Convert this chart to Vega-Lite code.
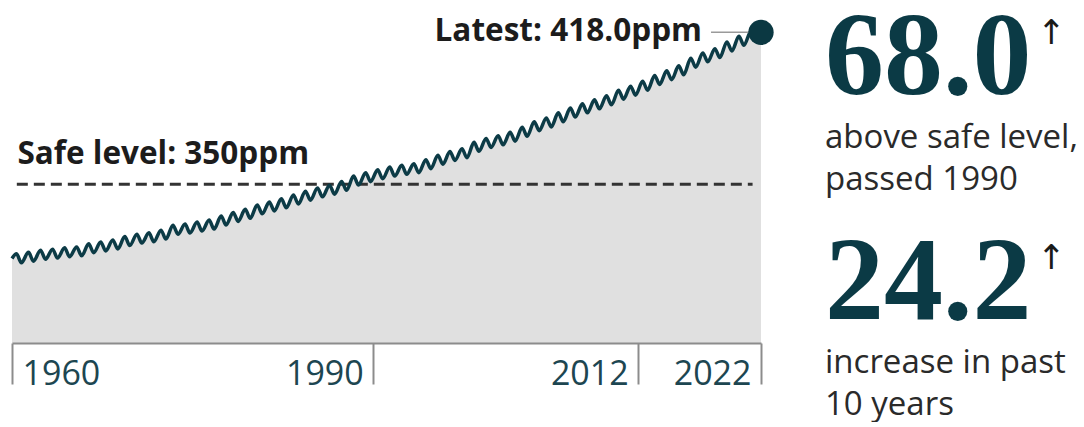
{
  "$schema": "https://vega.github.io/schema/vega-lite/v6.json",
  "autosize": {"type": "pad"},
  "padding": {"left": 5, "top": 0, "right": 0, "bottom": 0},
  "background": "#ffffff",
  "bounds": "flush",
  "spacing": 64,
  "config": {"view": {"stroke": null}},
  "datasets": {
    "co2": [
      {"t": 1960.0, "ppm": 316.8},
      {"t": 1960.37, "ppm": 318.9}, {"t": 1960.78, "ppm": 314.9},
      {"t": 1961.37, "ppm": 319.6}, {"t": 1961.78, "ppm": 315.6},
      {"t": 1962.37, "ppm": 320.5}, {"t": 1962.78, "ppm": 316.5},
      {"t": 1963.37, "ppm": 321.0}, {"t": 1963.78, "ppm": 317.0},
      {"t": 1964.37, "ppm": 321.6}, {"t": 1964.78, "ppm": 317.6},
      {"t": 1965.37, "ppm": 322.0}, {"t": 1965.78, "ppm": 318.0},
      {"t": 1966.37, "ppm": 323.4}, {"t": 1966.78, "ppm": 319.4},
      {"t": 1967.37, "ppm": 324.2}, {"t": 1967.78, "ppm": 320.2},
      {"t": 1968.37, "ppm": 325.1}, {"t": 1968.78, "ppm": 321.1},
      {"t": 1969.37, "ppm": 326.6}, {"t": 1969.78, "ppm": 322.6},
      {"t": 1970.37, "ppm": 327.7}, {"t": 1970.78, "ppm": 323.7},
      {"t": 1971.37, "ppm": 328.3}, {"t": 1971.78, "ppm": 324.3},
      {"t": 1972.37, "ppm": 329.5}, {"t": 1972.78, "ppm": 325.5},
      {"t": 1973.37, "ppm": 331.7}, {"t": 1973.78, "ppm": 327.7},
      {"t": 1974.37, "ppm": 332.2}, {"t": 1974.78, "ppm": 328.2},
      {"t": 1975.37, "ppm": 333.1}, {"t": 1975.78, "ppm": 329.1},
      {"t": 1976.37, "ppm": 334.0}, {"t": 1976.78, "ppm": 330.0},
      {"t": 1977.37, "ppm": 335.8}, {"t": 1977.78, "ppm": 331.8},
      {"t": 1978.37, "ppm": 337.4}, {"t": 1978.78, "ppm": 333.4},
      {"t": 1979.37, "ppm": 338.8}, {"t": 1979.78, "ppm": 334.8},
      {"t": 1980.37, "ppm": 340.8}, {"t": 1980.78, "ppm": 336.8},
      {"t": 1981.37, "ppm": 342.1}, {"t": 1981.78, "ppm": 338.1},
      {"t": 1982.37, "ppm": 343.5}, {"t": 1982.78, "ppm": 339.5},
      {"t": 1983.37, "ppm": 345.2}, {"t": 1983.78, "ppm": 341.2},
      {"t": 1984.37, "ppm": 346.9}, {"t": 1984.78, "ppm": 342.9},
      {"t": 1985.37, "ppm": 348.4}, {"t": 1985.78, "ppm": 344.4},
      {"t": 1986.37, "ppm": 349.6}, {"t": 1986.78, "ppm": 345.6},
      {"t": 1987.37, "ppm": 351.3}, {"t": 1987.78, "ppm": 347.3},
      {"t": 1988.37, "ppm": 353.7}, {"t": 1988.78, "ppm": 349.7},
      {"t": 1989.37, "ppm": 355.2}, {"t": 1989.78, "ppm": 351.2},
      {"t": 1990.37, "ppm": 356.5}, {"t": 1990.78, "ppm": 352.5},
      {"t": 1991.37, "ppm": 357.7}, {"t": 1991.78, "ppm": 353.7},
      {"t": 1992.37, "ppm": 358.5}, {"t": 1992.78, "ppm": 354.5},
      {"t": 1993.37, "ppm": 359.2}, {"t": 1993.78, "ppm": 355.2},
      {"t": 1994.37, "ppm": 361.0}, {"t": 1994.78, "ppm": 357.0},
      {"t": 1995.37, "ppm": 363.0}, {"t": 1995.78, "ppm": 359.0},
      {"t": 1996.37, "ppm": 364.7}, {"t": 1996.78, "ppm": 360.7},
      {"t": 1997.37, "ppm": 365.9}, {"t": 1997.78, "ppm": 361.9},
      {"t": 1998.37, "ppm": 368.8}, {"t": 1998.78, "ppm": 364.8},
      {"t": 1999.37, "ppm": 370.5}, {"t": 1999.78, "ppm": 366.5},
      {"t": 2000.37, "ppm": 371.7}, {"t": 2000.78, "ppm": 367.7},
      {"t": 2001.37, "ppm": 373.3}, {"t": 2001.78, "ppm": 369.3},
      {"t": 2002.37, "ppm": 375.5}, {"t": 2002.78, "ppm": 371.5},
      {"t": 2003.37, "ppm": 378.0}, {"t": 2003.78, "ppm": 374.0},
      {"t": 2004.37, "ppm": 379.7}, {"t": 2004.78, "ppm": 375.7},
      {"t": 2005.37, "ppm": 382.0}, {"t": 2005.78, "ppm": 378.0},
      {"t": 2006.37, "ppm": 384.1}, {"t": 2006.78, "ppm": 380.1},
      {"t": 2007.37, "ppm": 386.0}, {"t": 2007.78, "ppm": 382.0},
      {"t": 2008.37, "ppm": 387.8}, {"t": 2008.78, "ppm": 383.8},
      {"t": 2009.37, "ppm": 389.6}, {"t": 2009.78, "ppm": 385.6},
      {"t": 2010.37, "ppm": 392.1}, {"t": 2010.78, "ppm": 388.1},
      {"t": 2011.37, "ppm": 393.9}, {"t": 2011.78, "ppm": 389.9},
      {"t": 2012.37, "ppm": 396.1}, {"t": 2012.78, "ppm": 392.1},
      {"t": 2013.37, "ppm": 398.7}, {"t": 2013.78, "ppm": 394.7},
      {"t": 2014.37, "ppm": 400.8}, {"t": 2014.78, "ppm": 396.8},
      {"t": 2015.37, "ppm": 403.0}, {"t": 2015.78, "ppm": 399.0},
      {"t": 2016.37, "ppm": 406.4}, {"t": 2016.78, "ppm": 402.4},
      {"t": 2017.37, "ppm": 408.8}, {"t": 2017.78, "ppm": 404.8},
      {"t": 2018.37, "ppm": 410.7}, {"t": 2018.78, "ppm": 406.7},
      {"t": 2019.37, "ppm": 413.7}, {"t": 2019.78, "ppm": 409.7},
      {"t": 2020.37, "ppm": 416.2}, {"t": 2020.78, "ppm": 412.2},
      {"t": 2021.37, "ppm": 418.5}, {"t": 2021.78, "ppm": 414.5},
      {"t": 2022.2, "ppm": 418.0}
    ],
    "safe": [{"level": 350, "label": "Safe level: 350ppm"}],
    "latest": [{"t": 2022.2, "ppm": 418.0, "label": "Latest: 418.0ppm"}],
    "stats": [
      {"stat": "68.0", "desc": ["above safe level,", "passed 1990"]},
      {"stat": "24.2", "desc": ["increase in past", "10 years"]}
    ]
  },
  "hconcat": [
    {
      "width": 749,
      "height": 333,
      "layer": [
        {
          "data": {"name": "co2"},
          "mark": {"type": "area", "color": "#e0e0e0", "interpolate": "monotone"},
          "encoding": {
            "x": {
              "field": "t", "type": "quantitative",
              "scale": {"domain": [1960, 2022.2], "nice": false, "zero": false},
              "axis": {
                "values": [1960, 1990, 2012, 2022.2],
                "format": "d",
                "title": null,
                "grid": false,
                "zindex": 1,
                "domainColor": "#8c8c8c",
                "domainWidth": 2,
                "tickColor": "#8c8c8c",
                "tickWidth": 2,
                "tickSize": 41,
                "labelFont": "Open Sans",
                "labelFontSize": 34,
                "labelColor": "#1d4651",
                "labelBaseline": "alphabetic",
                "labelPadding": 0,
                "labelOverlap": false,
                "labelFlush": false,
                "labelAlign": {"condition": {"test": "datum.value < 1970", "value": "left"}, "value": "right"},
                "labelOffset": {"condition": {"test": "datum.value < 1970", "value": 10}, "value": -10}
              }
            },
            "y": {
              "field": "ppm", "type": "quantitative",
              "scale": {"domain": [279, 428], "nice": false, "zero": false},
              "axis": null
            },
            "y2": {"datum": 279}
          }
        },
        {
          "data": {"name": "safe"},
          "mark": {"type": "rule", "color": "#333333", "strokeWidth": 3, "strokeDash": [11, 6]},
          "encoding": {
            "x": {"datum": 1960.4, "type": "quantitative"},
            "x2": {"datum": 2021.5},
            "y": {"field": "level", "type": "quantitative"}
          }
        },
        {
          "data": {"name": "safe"},
          "mark": {"type": "text", "align": "left", "baseline": "alphabetic", "dy": -20, "font": "Open Sans", "fontWeight": "bold", "fontSize": 31.5, "color": "#1c1c1c"},
          "encoding": {
            "x": {"datum": 1960.45, "type": "quantitative"},
            "y": {"field": "level", "type": "quantitative"},
            "text": {"field": "label"}
          }
        },
        {
          "data": {"name": "co2"},
          "mark": {"type": "line", "color": "#0c3b46", "strokeWidth": 3.5, "interpolate": "monotone"},
          "encoding": {
            "x": {"field": "t", "type": "quantitative"},
            "y": {"field": "ppm", "type": "quantitative"}
          }
        },
        {
          "data": {"name": "latest"},
          "mark": {"type": "rule", "color": "#9a9a9a", "strokeWidth": 1.5},
          "encoding": {
            "x": {"field": "t", "type": "quantitative"},
            "x2": {"datum": 2018.05},
            "y": {"field": "ppm", "type": "quantitative"}
          }
        },
        {
          "data": {"name": "latest"},
          "mark": {"type": "point", "filled": true, "size": 640, "color": "#0b3842", "opacity": 1},
          "encoding": {
            "x": {"field": "t", "type": "quantitative"},
            "y": {"field": "ppm", "type": "quantitative"}
          }
        },
        {
          "data": {"name": "latest"},
          "mark": {"type": "text", "align": "right", "baseline": "alphabetic", "dx": -59, "dy": 9, "font": "Open Sans", "fontWeight": "bold", "fontSize": 31.5, "color": "#1c1c1c"},
          "encoding": {
            "x": {"field": "t", "type": "quantitative"},
            "y": {"field": "ppm", "type": "quantitative"},
            "text": {"field": "label"}
          }
        }
      ]
    },
    {
      "width": 250,
      "height": 225,
      "data": {"name": "stats"},
      "encoding": {
        "x": {"value": 0},
        "y": {"field": "stat", "type": "nominal", "sort": null, "scale": {"type": "point", "padding": 0}, "axis": null}
      },
      "layer": [
        {
          "mark": {"type": "text", "align": "left", "baseline": "alphabetic", "dy": 84, "font": "Liberation Serif", "fontWeight": "bold", "fontSize": 118, "color": "#0b3a45"},
          "encoding": {"text": {"field": "stat"}}
        },
        {
          "mark": {"type": "text", "align": "left", "baseline": "alphabetic", "dx": 212, "dy": 34, "font": "DejaVu Sans", "fontSize": 34, "color": "#1a1a1a"},
          "encoding": {"text": {"value": "↑"}}
        },
        {
          "mark": {"type": "text", "align": "left", "baseline": "alphabetic", "dy": 138, "lineHeight": 42, "font": "Open Sans", "fontSize": 33, "color": "#2a2a2a"},
          "encoding": {"text": {"field": "desc"}}
        }
      ]
    }
  ]
}
